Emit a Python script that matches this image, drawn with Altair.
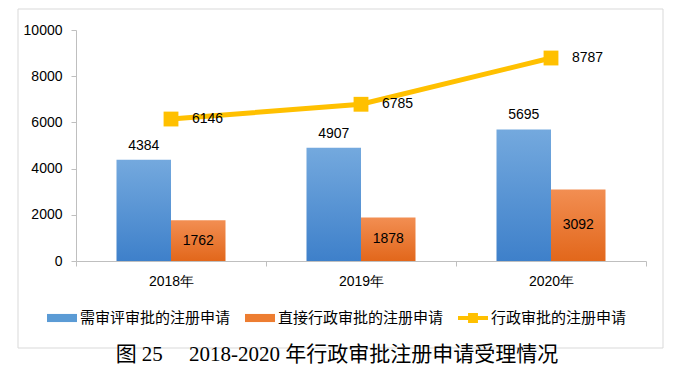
import altair as alt
import pandas as pd

years = ["2018年", "2019年", "2020年"]
series_names = ["需审评审批的注册申请", "直接行政审批的注册申请", "行政审批的注册申请"]
review_values = [4384, 4907, 5695]
direct_values = [1762, 1878, 3092]
admin_values = [6146, 6785, 8787]
y_ticks = [0, 2000, 4000, 6000, 8000, 10000]
caption = "图 25\u00a0\u00a0\u00a0\u00a0\u00a02018-2020 年行政审批注册申请受理情况"
colors = ["#5B9BD5", "#ED7D31", "#FFC000"]

bar_df = pd.DataFrame({
    "year": years * 2,
    "series": [series_names[0]] * 3 + [series_names[1]] * 3,
    "value": review_values + direct_values,
})
line_df = pd.DataFrame({"year": years, "value": admin_values})
legend_df = pd.DataFrame({"series": series_names})
one_row = pd.DataFrame({"k": [0]})

LAB_FONT = "Liberation Sans"
AX_COLOR = "#BFBFBF"

x_enc = alt.X(
    "year:N", sort=years,
    scale=alt.Scale(domain=years, paddingInner=0, paddingOuter=0),
    axis=alt.Axis(title=None, labelAngle=0, tickBand="extent", domainColor=AX_COLOR,
                  tickColor=AX_COLOR, tickSize=5, labelPadding=8, labelFont=LAB_FONT,
                  labelFontSize=14, labelColor="#000"),
)
y_axis = alt.Axis(values=y_ticks, grid=False, title=None, format="d", domainColor=AX_COLOR,
                  tickColor=AX_COLOR, tickSize=5, labelPadding=9, labelFont=LAB_FONT,
                  labelFontSize=14, labelColor="#000")
y_scale = alt.Scale(domain=[0, 10000], nice=False)
xoff = alt.XOffset("series:N", scale=alt.Scale(domain=series_names[:2], paddingInner=0, paddingOuter=0.743))

blue_grad = alt.Gradient(gradient="linear", x1=0, x2=0, y1=0, y2=1,
                         stops=[alt.GradientStop(color="#74A9DE", offset=0),
                                alt.GradientStop(color="#3E80CA", offset=1)])
orange_grad = alt.Gradient(gradient="linear", x1=0, x2=0, y1=0, y2=1,
                           stops=[alt.GradientStop(color="#F28E52", offset=0),
                                  alt.GradientStop(color="#E2671B", offset=1)])

border = alt.Chart(one_row).mark_rect(fillOpacity=0, stroke="#D9D9D9", strokeWidth=1).encode(
    x=alt.value(-58), x2=alt.value(587), y=alt.value(-21), y2=alt.value(318))

base_bars = alt.Chart(bar_df)
blue_bars = base_bars.transform_filter(alt.datum.series == series_names[0]).mark_bar(fill=blue_grad).encode(
    x=x_enc, xOffset=xoff, y=alt.Y("value:Q", scale=y_scale, axis=y_axis))
orange_bars = base_bars.transform_filter(alt.datum.series == series_names[1]).mark_bar(fill=orange_grad).encode(
    x=x_enc, xOffset=xoff, y=alt.Y("value:Q", scale=y_scale, axis=y_axis))

blue_text = base_bars.transform_filter(alt.datum.series == series_names[0]).mark_text(
    font=LAB_FONT, fontSize=14, color="#000", dy=-14, baseline="middle").encode(
    x=x_enc, xOffset=xoff, y=alt.Y("value:Q", scale=y_scale, axis=y_axis), text="value:Q")
orange_text = base_bars.transform_filter(alt.datum.series == series_names[1]).transform_calculate(
    half="datum.value / 2").mark_text(font=LAB_FONT, fontSize=14, color="#000", baseline="middle").encode(
    x=x_enc, xOffset=xoff, y=alt.Y("half:Q", scale=y_scale, axis=y_axis), text="value:Q")

line = alt.Chart(line_df).mark_line(color=colors[2], strokeWidth=5).encode(
    x=x_enc, y=alt.Y("value:Q", scale=y_scale, axis=y_axis))
points = alt.Chart(line_df).mark_point(shape="square", filled=True, size=220, color=colors[2], opacity=1).encode(
    x=x_enc, y=alt.Y("value:Q", scale=y_scale, axis=y_axis))
line_text = alt.Chart(line_df).mark_text(font=LAB_FONT, fontSize=14, color="#000", align="left",
                                         dx=21, baseline="middle").encode(
    x=x_enc, y=alt.Y("value:Q", scale=y_scale, axis=y_axis), text="value:Q")

bar_path = "M-1,-0.27H1V0.27H-1Z"
line_path = "M-1,-0.13H1V0.13H-1Z M-0.33,-0.33H0.33V0.33H-0.33Z"
legend = alt.Legend(title=None, orient="none", legendX=-29, legendY=273, direction="horizontal",
                    symbolSize=900, symbolStrokeWidth=0, labelFont="Noto Sans CJK SC",
                    labelFontSize=15, labelColor="#000", labelOffset=3, columnPadding=14,
                    labelLimit=300)
legend_layer = alt.Chart(legend_df).transform_filter("false").mark_point(filled=True, opacity=1).encode(
    color=alt.Color("series:N", scale=alt.Scale(domain=series_names, range=colors), legend=legend),
    shape=alt.Shape("series:N", scale=alt.Scale(domain=series_names, range=[bar_path, bar_path, line_path]),
                    legend=legend),
)

cap = alt.Chart(one_row).mark_text(font="Liberation Serif, Noto Sans CJK SC", fontSize=21, color="#000",
                                   baseline="middle").encode(
    x=alt.value(261), y=alt.value(325), text=alt.value(caption))

chart = alt.layer(border, blue_bars, orange_bars, blue_text, orange_text, line, points, line_text,
                  legend_layer, cap).properties(
    width=570, height=231,
    autosize=alt.AutoSizeParams(type="none"),
    padding={"left": 68, "top": 22, "right": 32, "bottom": 106},
    background="#FFFFFF",
).configure_view(stroke=None)

chart.save("out.html", embed_options={"renderer": "svg", "actions": False})
